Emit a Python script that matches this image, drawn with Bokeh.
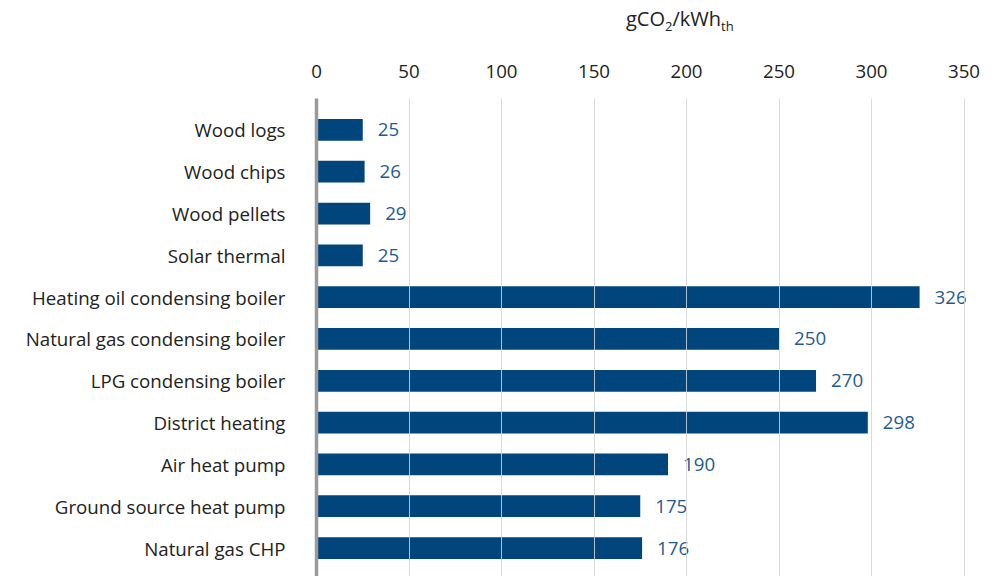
from bokeh.plotting import figure
from bokeh.models import Range1d, ColumnDataSource, FixedTicker, Div
from bokeh.layouts import column
from bokeh.embed import file_html
from bokeh.resources import INLINE
from bokeh.core.properties import value

categories = ["Wood logs", "Wood chips", "Wood pellets", "Solar thermal",
              "Heating oil condensing boiler", "Natural gas condensing boiler",
              "LPG condensing boiler", "District heating", "Air heat pump",
              "Ground source heat pump", "Natural gas CHP"]
values = [25, 26, 29, 25, 326, 250, 270, 298, 190, 175, 176]
x_ticks = [0, 50, 100, 150, 200, 250, 300, 350]

FONT = "Open Sans"
FS = "18.7px"
BAR = "#00457c"
LBL = "#1f5b93"

ypos = list(range(len(categories)))
src = ColumnDataSource(dict(y=ypos, v=values, t=[str(v) for v in values], c=categories))

p = figure(width=995, height=536, output_backend="svg", toolbar_location=None,
           x_range=Range1d(0, 365.4), y_range=Range1d(10.68, -0.75),
           x_axis_location="above", min_border_left=316, min_border_top=58,
           min_border_right=3, min_border_bottom=0)
p.outline_line_color = None
p.background_fill_color = "white"

p.hbar(y="y", right="v", left=0, height=0.52, source=src, color=BAR, line_color=None)
p.text(x="v", y="y", text="t", source=src, x_offset=15, text_baseline="middle",
       text_align="left", text_color=LBL, text_font=value(FONT), text_font_size=FS)

# x axis (top)
xa = p.xaxis[0]
xa.ticker = FixedTicker(ticks=x_ticks)
xa.axis_line_color = None
xa.major_tick_line_color = None
xa.minor_tick_line_color = None
xa.major_label_text_font = FONT
xa.major_label_text_font_size = FS
xa.major_label_text_color = "#222222"
xa.major_label_standoff = 15

# y axis
ya = p.yaxis[0]
ya.ticker = FixedTicker(ticks=ypos)
ya.major_label_overrides = {i: c for i, c in enumerate(categories)}
ya.axis_line_color = "#9a9a9a"
ya.axis_line_width = 3.5
ya.major_tick_line_color = None
ya.minor_tick_line_color = None
ya.major_label_text_font = FONT
ya.major_label_text_font_size = FS
ya.major_label_text_color = "#222222"
ya.major_label_standoff = 25

p.ygrid.grid_line_color = None
p.xgrid.ticker = FixedTicker(ticks=x_ticks)
p.xgrid.grid_line_color = "#d4d4d4"
p.xgrid.grid_line_alpha = 0.85
p.xgrid.grid_line_width = 1
p.xgrid.level = "overlay"

title = Div(
    text=('<div style="padding-left:626px;padding-top:7px;font-family:\'Open Sans\';'
          'font-size:20px;color:#222222;line-height:24px;white-space:nowrap;">'
          'gCO<sub style="font-size:13px;vertical-align:-5px;">2</sub>/kWh'
          '<sub style="font-size:13px;vertical-align:-5px;">th</sub></div>'),
    width=995, height=40, margin=0)

layout = column(title, p, spacing=0)
open("out.html", "w").write(file_html(layout, INLINE))
